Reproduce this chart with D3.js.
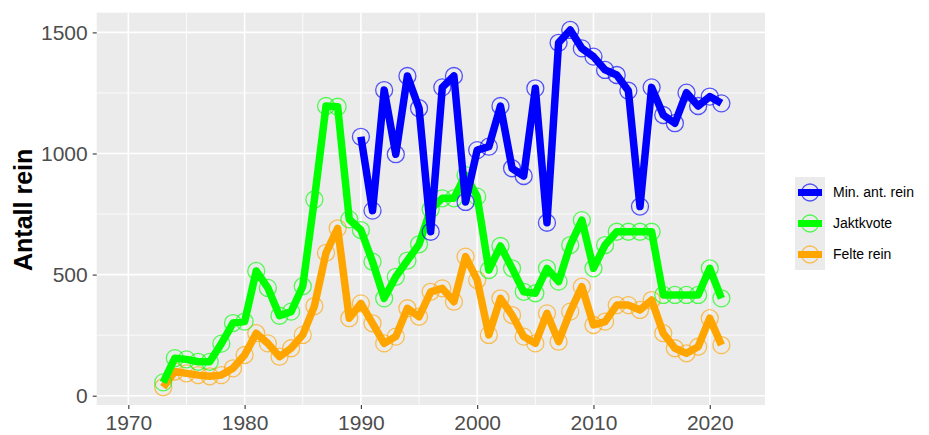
<!DOCTYPE html>
<html><head><meta charset="utf-8">
<script src="https://cdn.jsdelivr.net/npm/d3@7"></script>
<style>body{margin:0;background:#fff}svg{display:block}</style>
</head><body>
<script>
const yearsBlue = d3.range(1990, 2022);
const minAntRein = [1069,764,1262,997,1320,1187,677,1273,1320,800,1014,1028,1196,939,907,1269,714,1457,1510,1434,1400,1345,1324,1259,781,1273,1159,1125,1251,1196,1235,1207];
const yearsAll = d3.range(1973, 2022);
const jaktkvote = [55,155,150,140,140,215,300,306,515,445,330,347,452,810,1196,1193,728,684,553,402,491,558,625,770,815,815,911,822,519,618,526,429,423,526,471,622,725,526,622,677,677,677,677,416,416,416,416,526,402];
const felteRein = [35,100,92,85,80,85,113,168,258,216,161,196,251,370,590,691,320,381,299,216,244,361,326,429,443,388,574,478,251,402,333,244,216,340,223,347,450,292,306,374,374,354,395,258,196,175,202,320,209];
const seriesNames = ["Min. ant. rein","Jaktkvote","Felte rein"];
const seriesColors = ["#0000FF","#00FF00","#FFA500"];
const xTicks = [1970,1980,1990,2000,2010,2020];
const yTicks = [0,500,1000,1500];
const yLabel = "Antall rein";

const W=929,H=435;
const L=96.7,R=765,T=12.7,B=405;
const svg=d3.select("body").append("svg").attr("width",W).attr("height",H);
svg.append("rect").attr("width",W).attr("height",H).attr("fill","#fff");
const x=d3.scaleLinear().domain([1967.28,2024.75]).range([L,R]);
const y=d3.scaleLinear().domain([-38.4,1581.3]).range([B,T]);

svg.append("rect").attr("x",L).attr("y",T).attr("width",R-L).attr("height",B-T).attr("fill","#EBEBEB");
const g=svg.append("g");
const xMinor=[1975,1985,1995,2005,2015];
const yMinor=[250,750,1250];
g.selectAll(".xm").data(xMinor).enter().append("line").attr("x1",d=>x(d)).attr("x2",d=>x(d)).attr("y1",T).attr("y2",B).attr("stroke","#fff").attr("stroke-width",0.8);
g.selectAll(".ym").data(yMinor).enter().append("line").attr("y1",d=>y(d)).attr("y2",d=>y(d)).attr("x1",L).attr("x2",R).attr("stroke","#fff").attr("stroke-width",0.8);
g.selectAll(".xM").data(xTicks).enter().append("line").attr("x1",d=>x(d)).attr("x2",d=>x(d)).attr("y1",T).attr("y2",B).attr("stroke","#fff").attr("stroke-width",1.6);
g.selectAll(".yM").data(yTicks).enter().append("line").attr("y1",d=>y(d)).attr("y2",d=>y(d)).attr("x1",L).attr("x2",R).attr("stroke","#fff").attr("stroke-width",1.6);

const xAxis=svg.append("g").attr("transform",`translate(0,${B})`).call(d3.axisBottom(x).tickValues(xTicks).tickFormat(d3.format("d")).tickSize(4).tickPadding(6));
const yAxis=svg.append("g").attr("transform",`translate(${L},0)`).call(d3.axisLeft(y).tickValues(yTicks).tickFormat(d3.format("d")).tickSize(4).tickPadding(5));
[xAxis,yAxis].forEach(a=>{a.select(".domain").remove();a.selectAll("line").attr("stroke","#333").attr("stroke-width",1.1);
 a.selectAll("text").attr("fill","#4D4D4D").style("font-family","Liberation Sans, Arial, sans-serif").style("font-size","21px");});
xAxis.selectAll("text").attr("dy","0.71em");

svg.append("text").attr("transform",`translate(32,${(T+B)/2+1}) rotate(-90)`).attr("text-anchor","middle")
 .style("font-family","Liberation Sans, Arial, sans-serif").style("font-size","25px").style("font-weight","bold").attr("fill","#000").text(yLabel);

const series=[
 {name:seriesNames[2],color:seriesColors[2],years:yearsAll,vals:felteRein},
 {name:seriesNames[1],color:seriesColors[1],years:yearsAll,vals:jaktkvote},
 {name:seriesNames[0],color:seriesColors[0],years:yearsBlue,vals:minAntRein}
];
const line=d3.line().x(d=>x(d[0])).y(d=>y(d[1]));
series.forEach(s=>{
 const pts=s.years.map((yr,i)=>[yr,s.vals[i]]);
 svg.append("path").datum(pts).attr("d",line).attr("fill","none").attr("stroke",s.color).attr("stroke-width",7.5).attr("stroke-linejoin","round");
 svg.selectAll(null).data(pts).enter().append("circle").attr("cx",d=>x(d[0])).attr("cy",d=>y(d[1])).attr("r",8.5)
  .attr("fill","none").attr("stroke",s.color).attr("stroke-opacity",0.65).attr("stroke-width",1.3);
});

const lg=svg.append("g");
const keyX=795,keyY=177,keyW=30,keyH=31;
seriesNames.forEach((n,i)=>{
 const cy=keyY+i*keyH+keyH/2;
 lg.append("rect").attr("x",keyX).attr("y",keyY+i*keyH).attr("width",keyW).attr("height",keyH).attr("fill","#EBEBEB");
 lg.append("line").attr("x1",keyX+3).attr("x2",keyX+keyW-3).attr("y1",cy).attr("y2",cy).attr("stroke",seriesColors[i]).attr("stroke-width",7);
 lg.append("circle").attr("cx",keyX+keyW/2).attr("cy",cy).attr("r",8.5).attr("fill","none").attr("stroke",seriesColors[i]).attr("stroke-opacity",0.65).attr("stroke-width",1.3);
 lg.append("text").attr("x",keyX+keyW+8).attr("y",cy).attr("dy","0.35em").style("font-family","Liberation Sans, Arial, sans-serif").style("font-size","14px").attr("fill","#000").text(n);
});
</script>
</body></html>
